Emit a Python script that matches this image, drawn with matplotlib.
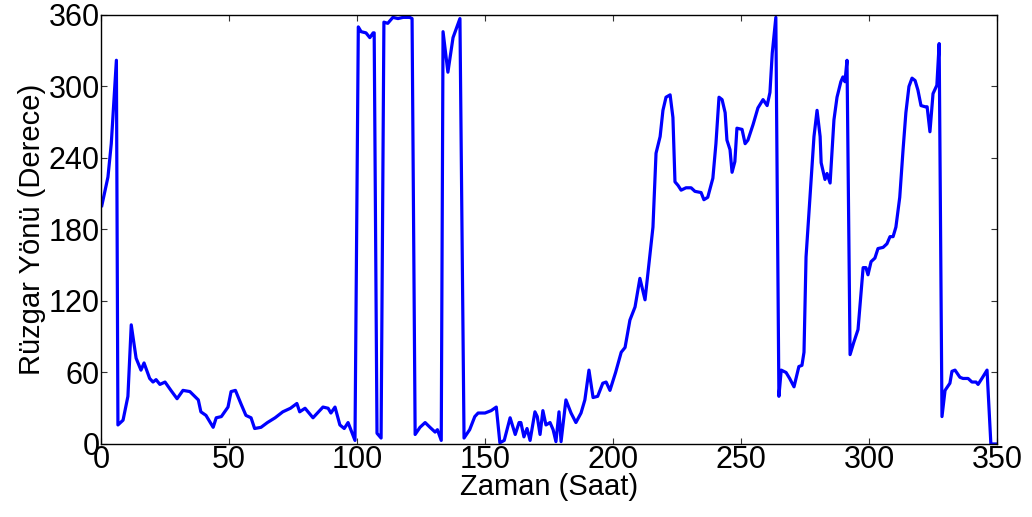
import matplotlib
matplotlib.use("Agg")
import matplotlib.pyplot as plt
import numpy as np

# wind direction readings (hour, degrees)
saat = [0.3, 2.7, 4.0, 5.4, 6.0, 6.6, 8.6, 10.5, 11.8, 13.7, 15.6, 16.8, 19.0, 20.3,
        21.5, 23.0, 25.0, 27.3, 29.7, 32.0, 34.7, 38.0, 39.0, 41.0, 43.8, 45.0,
        47.0, 49.6, 50.8, 52.5, 54.8, 56.6, 58.6, 60.0, 62.5, 65.0, 68.0, 71.0,
        74.0, 76.5, 77.6, 79.7, 82.8, 86.7, 88.7, 89.8, 91.4, 93.3, 95.0, 96.5,
        99.2, 100.5, 101.6, 103.5, 105.0, 106.3, 106.7, 107.8, 109.4, 110.5,
        112.0, 114.0, 116.0, 118.0, 120.6, 121.5, 122.7, 124.6, 126.6, 128.5,
        130.5, 131.4, 132.9, 133.6, 135.5, 137.5, 140.2, 141.8, 144.0, 146.0,
        147.3, 150.0, 152.4, 154.4, 155.8, 157.5, 159.8, 161.8, 163.3, 164.0,
        165.2, 166.4, 167.6, 169.5, 170.4, 171.5, 172.6, 173.8, 175.4, 176.6,
        177.7, 178.9, 179.7, 181.6, 183.6, 185.5, 187.5, 189.0, 190.6, 192.2,
        194.0, 196.0, 197.3, 198.8, 201.0, 203.2, 204.7, 206.6, 208.6, 210.5,
        212.5, 215.6, 216.8, 218.4, 219.5, 220.7, 222.3, 223.4, 224.2, 225.4,
        226.6, 228.5, 230.5, 232.0, 234.4, 235.5, 237.0, 239.0, 240.2, 241.4,
        242.6, 243.8, 244.5, 245.7, 246.5, 247.6, 248.4, 250.4, 251.6, 252.7,
        254.7, 256.6, 258.6, 260.2, 261.3, 262.2, 263.6, 264.8, 265.7, 267.6,
        269.0, 270.7, 272.6, 273.8, 274.6, 275.4, 277.3, 278.5, 279.7, 280.9,
        281.3, 282.8, 283.6, 284.8, 286.3, 287.5, 289.0, 289.8, 290.6, 291.4,
        292.6, 294.0, 295.7, 297.7, 298.8, 299.6, 300.8, 302.3, 303.5, 305.5,
        307.0, 308.2, 309.4, 310.5, 312.0, 313.3, 314.4, 315.6, 316.8, 318.0,
        319.1, 320.3, 321.9, 322.7, 323.8, 325.0, 326.5, 327.4, 328.5, 329.7,
        331.6, 332.4, 333.6, 335.5, 336.7, 338.7, 340.2, 341.8, 342.6, 344.1,
        346.1, 347.6, 350.0]
yon = [200, 224, 252, 300, 322, 16, 20, 40, 100, 72, 62, 68, 55, 52,
       54, 50, 52, 45, 38, 45, 44, 37, 27, 24, 14, 22,
       23, 31, 44, 45, 33, 24, 22, 13, 14, 18, 22, 27,
       30, 34, 27, 30, 22, 31, 30, 26, 31, 16, 13, 18,
       3, 350, 346, 345, 341, 345, 345, 9, 5, 354,
       353, 358, 357, 358, 358, 357, 8, 14, 18, 14,
       10, 12, 3, 346, 312, 341, 357, 5, 12, 23,
       26, 26, 28, 31, 1, 3, 22, 8, 18, 18,
       6, 13, 3, 27, 23, 8, 28, 16, 18, 12,
       2, 27, 2, 37, 26, 18, 26, 37, 62, 39,
       40, 51, 52, 45, 60, 77, 81, 104, 115, 139,
       121, 182, 244, 258, 280, 291, 293, 274, 220, 217,
       213, 215, 215, 212, 211, 205, 207, 223, 252, 291,
       289, 278, 255, 247, 228, 237, 265, 264, 252, 255,
       268, 282, 289, 284, 295, 328, 358, 40, 62, 60,
       55, 48, 65, 66, 77, 157, 219, 258, 280, 258,
       236, 222, 227, 219, 272, 291, 304, 308, 304, 322,
       75, 85, 96, 148, 148, 142, 153, 156, 164, 165,
       168, 174, 174, 182, 207, 247, 278, 300, 307, 305,
       297, 284, 283, 283, 262, 294, 301, 336, 23, 45,
       51, 61, 62, 56, 55, 55, 52, 52, 50, 55,
       62, 0, 0]

xticks = np.arange(0, 351, 50)
yticks = np.arange(0, 361, 60)

plt.rcParams['font.family'] = ['Liberation Sans', 'DejaVu Sans']

fig = plt.figure(figsize=(10.32, 5.17), dpi=100)
ax = fig.add_axes([0.0979, 0.1412, 0.8682, 0.8298])
ax.plot(saat, yon, color=(0, 0, 1), linewidth=2.3)

ax.set_xlim(0, 350)
ax.set_ylim(0, 360)
ax.set_xticks(xticks)
ax.set_yticks(yticks)
ax.tick_params(direction='in', length=4, width=0.8, top=True, right=True,
               labelsize=22, pad=1, color='#333333')
for s in ax.spines.values():
    s.set_linewidth(1.0)

ax.set_xlabel("Zaman (Saat)", fontsize=21, labelpad=-2)
ax.set_ylabel("Rüzgar Yönü (Derece)", fontsize=21, labelpad=2)

fig.savefig("out.png", dpi=100)
